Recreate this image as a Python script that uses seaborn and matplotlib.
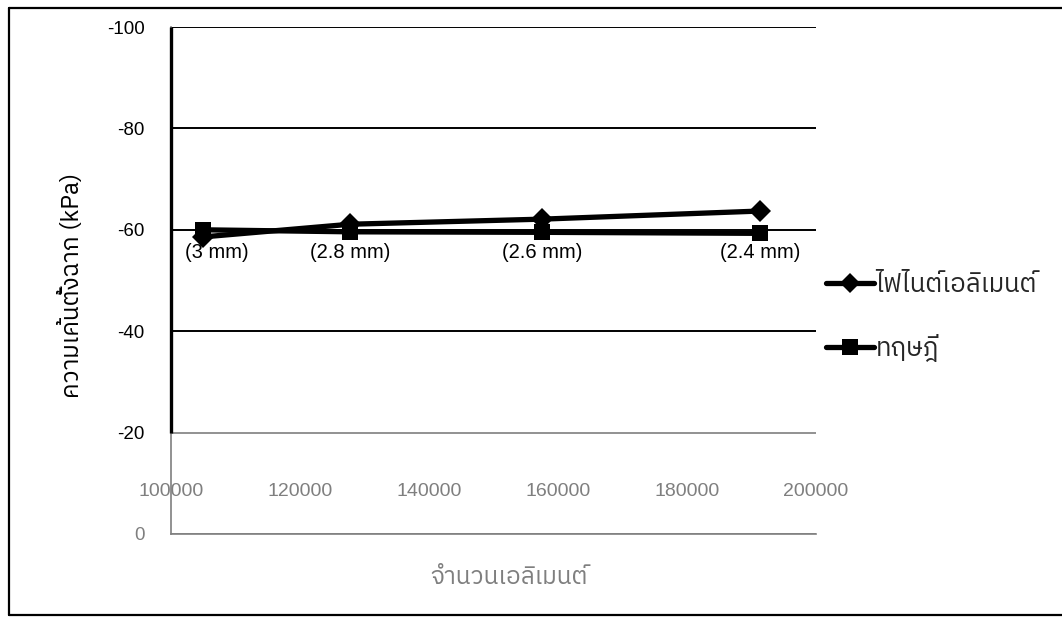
import numpy as np
import pandas as pd
import matplotlib
matplotlib.use("Agg")
import matplotlib.pyplot as plt
from matplotlib import font_manager
from matplotlib.ft2font import FT2Font
from matplotlib.lines import Line2D
import seaborn as sns

# ---- data -------------------------------------------------------------
element_counts = [105000, 127800, 157500, 191300]
mesh_sizes = ["(3 mm)", "(2.8 mm)", "(2.6 mm)", "(2.4 mm)"]
fe_stress = [-58.6, -61.1, -62.1, -63.7]
theory_stress = [-60.0, -59.6, -59.5, -59.3]
series_names = ["ไฟไนต์เอลิเมนต์", "ทฤษฎี"]
y_ticks = [-100, -80, -60, -40, -20, 0]
x_ticks = [100000, 120000, 140000, 160000, 180000, 200000]
x_label = "จำนวนเอลิเมนต์"
y_label = "ความเค้นตั้งฉาก (kPa)"


def find_thai_family():
    """Return an installed family that covers the Thai block."""
    entries = sorted(font_manager.fontManager.ttflist,
                     key=lambda f: (0 if "thai" in f.name.lower() else 1, f.name))
    for fe in entries:
        try:
            if 0x0E01 in FT2Font(fe.fname).get_charmap():
                return fe.name
        except Exception:
            continue
    return "DejaVu Sans"


sns.set_style("white")
thai = find_thai_family()
plt.rcParams["font.family"] = ["Liberation Sans", thai, "DejaVu Sans"]
thai_fam = [thai, "Liberation Sans", "DejaVu Sans"]

df = pd.DataFrame({
    "elements": element_counts * 2,
    "stress": fe_stress + theory_stress,
    "series": [series_names[0]] * len(fe_stress) + [series_names[1]] * len(theory_stress),
})

W, H = 1062, 617
fig = plt.figure(figsize=(W / 100, H / 100), dpi=100)
ax = fig.add_axes([171 / W, 1 - 534 / H, (816 - 171) / W, (534 - 27) / H])

grey = "#7f7f7f"
black = "#000000"

sns.lineplot(data=df, x="elements", y="stress", hue="series", style="series",
             palette={series_names[0]: black, series_names[1]: black},
             markers={series_names[0]: "D", series_names[1]: "s"},
             dashes=False, sort=False, linewidth=3.8, markersize=11,
             markeredgewidth=0, legend=False, ax=ax, zorder=5)

ax.set_xlim(x_ticks[0], x_ticks[-1])
ax.set_ylim(0, -100)
ax.set_xticks(x_ticks)
ax.set_yticks(y_ticks)
ax.set_xticklabels([str(v) for v in x_ticks], fontsize=14, color=grey)
ax.set_yticklabels([str(v) for v in y_ticks], fontsize=13.5)
for lab, v in zip(ax.get_yticklabels(), y_ticks):
    lab.set_color(grey if v == 0 else black)
ax.tick_params(axis="x", length=0, pad=-36.5)
ax.tick_params(axis="y", length=0, pad=19)
ax.set_xlabel("")
ax.set_ylabel("")

# horizontal gridlines: dark over the main field, grey in the lower box
ax.yaxis.grid(True, linewidth=1.4)
for gl, v in zip(ax.get_ygridlines(), y_ticks):
    gl.set_color(grey if v >= -20 else black)
    gl.set_linewidth(1.2 if v >= -20 else 1.4)
ax.xaxis.grid(False)

for side in ["top", "right"]:
    ax.spines[side].set_visible(False)
ax.spines["bottom"].set_color(grey)
ax.spines["bottom"].set_linewidth(1.2)
ax.spines["left"].set_color(grey)
ax.spines["left"].set_linewidth(1.2)
ax.vlines(x_ticks[0], -100, -20, color=black, linewidth=2.4, clip_on=False, zorder=4)

# mesh size annotations under each point
for i, (xv, txt) in enumerate(zip(element_counts, mesh_sizes)):
    dx = 10 if i == 0 else 0
    ax.annotate(txt, (xv, -55.6), xytext=(dx, 0), textcoords="offset points",
                ha="center", va="center", fontsize=14.5, color=black)

# axis titles
fig.text(509 / W, 1 - 577 / H, x_label, ha="center", va="center",
         fontsize=17.5, color=grey, family=thai_fam)
fig.text(71 / W, 1 - 285 / H, y_label, ha="center", va="center",
         rotation=90, fontsize=17.5, color=black, family=thai_fam)

# legend to the right of the plot
handles = [
    Line2D([], [], color=black, linewidth=3.8, marker="D", markersize=10, markeredgewidth=0),
    Line2D([], [], color=black, linewidth=3.8, marker="s", markersize=12, markeredgewidth=0),
]
leg = fig.legend(handles, series_names, loc="upper left",
                 bbox_to_anchor=(826 / W, 1 - 272 / H), frameon=False,
                 handlelength=1.85, handletextpad=0.08, labelspacing=1.45,
                 borderpad=0, borderaxespad=0,
                 prop=font_manager.FontProperties(family=thai_fam, size=18.5))

# outer frame of the figure
frame_kw = dict(color=black, linewidth=1.6, transform=fig.transFigure, clip_on=False)
fig.add_artist(Line2D([9 / W, 9 / W], [1 - 8 / H, 1 - 615 / H], **frame_kw))
fig.add_artist(Line2D([9 / W, 1.0], [1 - 8 / H, 1 - 8 / H], **frame_kw))
fig.add_artist(Line2D([9 / W, 1.0], [1 - 615 / H, 1 - 615 / H], **frame_kw))

fig.savefig("out.png", dpi=100)
